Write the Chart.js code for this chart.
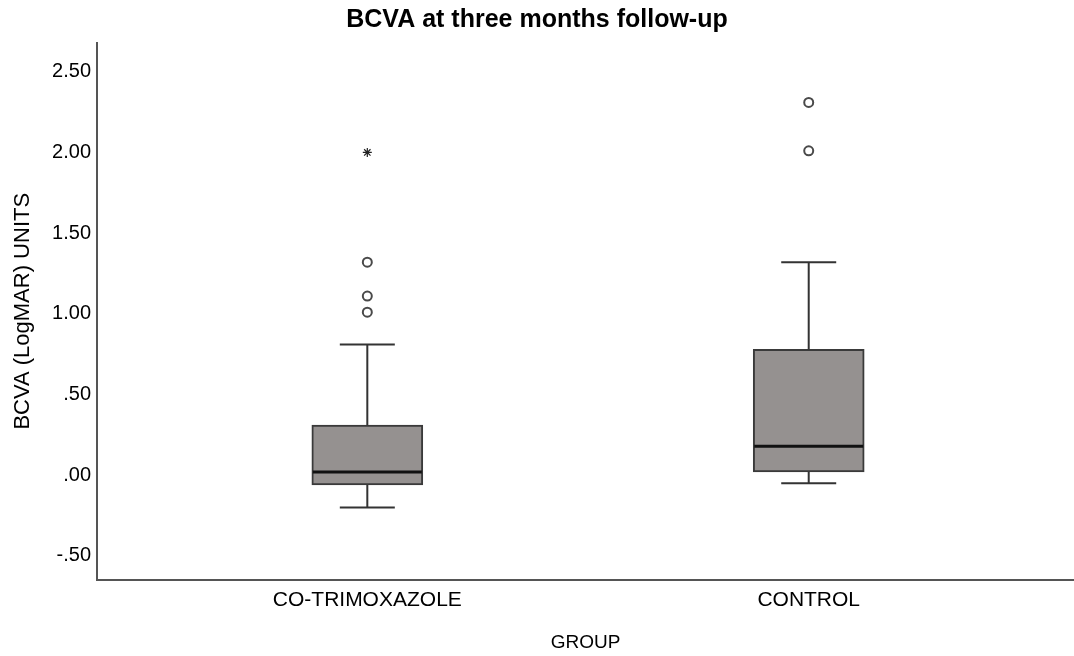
<!DOCTYPE html>
<html>
<head>
<meta charset="utf-8">
<script src="https://cdn.jsdelivr.net/npm/chart.js@4.4.1/dist/chart.umd.min.js"></script>
<style>
  html, body { margin: 0; padding: 0; background: #fff; }
  #wrap { width: 1074px; height: 656px; }
</style>
</head>
<body>
<div id="wrap"><canvas id="boxChart"></canvas></div>
<script>
// groupes et valeurs
const categories = ['CO-TRIMOXAZOLE', 'CONTROL'];
const whiskerLow = [-0.20, -0.05];
const q1 = [-0.06, 0.02];
const median = [0.02, 0.18];
const q3 = [0.31, 0.78];
const whiskerHigh = [0.81, 1.32];
const outliers = [[1.01, 1.11, 1.32], [2.01, 2.31]];
const extremes = [[2.00], []];
const yTicks = [-0.5, 0, 0.5, 1, 1.5, 2, 2.5];

const groupPos = categories.map((c, i) => i + 1);
const FONT = "'Liberation Sans', Arial, sans-serif";
const BOX_W = 111;
const CAP_W = 55;

// moustaches + médiane, dessinées avec les échelles du graphique
const boxLines = {
  id: 'boxLines',
  afterDatasetsDraw(chart) {
    const { ctx, scales: { x, y } } = chart;
    ctx.save();
    ctx.lineCap = 'butt';
    groupPos.forEach((g, i) => {
      const cx = x.getPixelForValue(g);
      ctx.strokeStyle = '#333';
      ctx.lineWidth = 2;
      ctx.beginPath();
      ctx.moveTo(cx, y.getPixelForValue(q3[i]));
      ctx.lineTo(cx, y.getPixelForValue(whiskerHigh[i]));
      ctx.moveTo(cx, y.getPixelForValue(q1[i]));
      ctx.lineTo(cx, y.getPixelForValue(whiskerLow[i]));
      ctx.moveTo(cx - CAP_W / 2, y.getPixelForValue(whiskerHigh[i]));
      ctx.lineTo(cx + CAP_W / 2, y.getPixelForValue(whiskerHigh[i]));
      ctx.moveTo(cx - CAP_W / 2, y.getPixelForValue(whiskerLow[i]));
      ctx.lineTo(cx + CAP_W / 2, y.getPixelForValue(whiskerLow[i]));
      ctx.stroke();
      ctx.strokeStyle = '#111';
      ctx.lineWidth = 3;
      ctx.beginPath();
      ctx.moveTo(cx - BOX_W / 2 + 1, y.getPixelForValue(median[i]));
      ctx.lineTo(cx + BOX_W / 2 - 1, y.getPixelForValue(median[i]));
      ctx.stroke();
    });
    ctx.restore();
  }
};

const fmt = v => {
  let s = Math.abs(v).toFixed(2).replace(/^0\./, '.');
  return (v < 0 ? '-' : '') + s;
};

const ctx = document.getElementById('boxChart').getContext('2d');
const boxChart = new Chart(ctx, {
  type: 'bar',
  data: {
    datasets: [
      {
        label: 'box',
        data: groupPos.map((g, i) => ({ x: g, y: [q1[i], q3[i]] })),
        backgroundColor: '#959190',
        borderColor: '#3a3a3a',
        borderWidth: 2,
        borderSkipped: false,
        barThickness: BOX_W,
        order: 2
      },
      {
        type: 'scatter',
        label: 'outliers',
        data: outliers.flatMap((arr, i) => arr.map(v => ({ x: groupPos[i], y: v }))),
        pointStyle: 'circle',
        pointRadius: 4.5,
        pointBackgroundColor: '#fff',
        pointBorderColor: '#4a4a4a',
        pointBorderWidth: 2,
        order: 1
      },
      {
        type: 'scatter',
        label: 'extremes',
        data: extremes.flatMap((arr, i) => arr.map(v => ({ x: groupPos[i], y: v }))),
        pointStyle: 'star',
        pointRadius: 4.5,
        pointBorderColor: '#222',
        pointBorderWidth: 1.2,
        order: 1
      }
    ]
  },
  options: {
    responsive: true,
    maintainAspectRatio: false,
    animation: false,
    layout: { padding: 0, autoPadding: false },
    plugins: {
      legend: { display: false },
      tooltip: { enabled: false },
      title: {
        display: true,
        text: 'BCVA at three months follow-up',
        color: '#000',
        font: { family: FONT, size: 25, weight: 'bold' },
        padding: { top: 5, bottom: 8 }
      }
    },
    scales: {
      x: {
        type: 'linear',
        offset: false,
        min: 0.3876,
        max: 2.601,
        grid: { display: false, drawTicks: false },
        border: { display: true, color: '#555', width: 2 },
        afterBuildTicks: s => { s.ticks = groupPos.map(v => ({ value: v })); },
        afterFit: s => { s.height = 76.5; },
        ticks: {
          padding: 8,
          color: '#000',
          font: { family: FONT, size: 21 },
          callback: v => categories[groupPos.indexOf(v)] || ''
        },
        title: {
          display: true,
          text: 'GROUP',
          color: '#000',
          font: { family: FONT, size: 19 },
          padding: { top: 0, bottom: 2 }
        }
      },
      y: {
        min: -0.646,
        max: 2.678,
        grid: { display: false, drawTicks: false },
        border: { display: true, color: '#555', width: 2 },
        afterBuildTicks: s => { s.ticks = yTicks.map(v => ({ value: v })); },
        afterFit: s => { s.width = 97; },
        ticks: {
          padding: 6,
          color: '#000',
          font: { family: FONT, size: 20 },
          callback: v => fmt(v)
        },
        title: {
          display: true,
          text: 'BCVA (LogMAR) UNITS',
          color: '#000',
          font: { family: FONT, size: 22 },
          padding: { top: 10, bottom: 0 }
        }
      }
    }
  },
  plugins: [boxLines]
});
</script>
</body>
</html>
